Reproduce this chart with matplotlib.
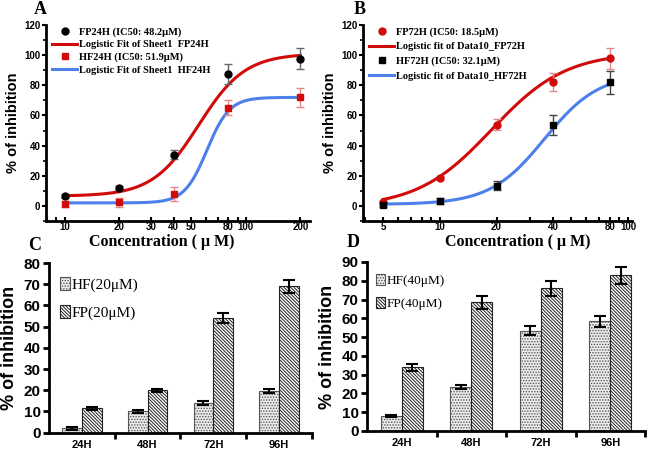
import numpy as np
import matplotlib
matplotlib.use("Agg")
import matplotlib.pyplot as plt
from matplotlib.lines import Line2D
from matplotlib.ticker import FixedLocator, NullFormatter, MultipleLocator

# ---- panel A data (24H dose response)
conc_a = [10, 20, 40, 80, 200]
fp24 = [6.5, 12, 34, 87.5, 97.5]
fp24_err = [1.5, 1.5, 3, 6.5, 7]
hf24 = [1, 2.5, 8, 65, 72]
hf24_err = [2, 3, 4.5, 5, 6.5]
# logistic fit params: A1, A2, x0, p
fit_fp24 = (6.5, 101, 55, 3.4)
fit_hf24 = (2, 72, 61, 7)

# ---- panel B data (72H dose response)
conc_b = [5, 10, 20, 40, 80]
fp72 = [2.5, 18.5, 54, 82, 98]
fp72_err = [1, 1.5, 3.5, 6, 7]
hf72 = [0.5, 3.5, 13.5, 53.5, 82]
hf72_err = [1, 2, 3, 6.5, 7.5]
fit_fp72 = (-1, 102, 18.8, 2.2)
fit_hf72 = (1, 88, 36, 3)

# ---- panel C/D data (time course)
times = ["24H", "48H", "72H", "96H"]
hf20 = [2, 10, 14, 19.5]
hf20_err = [0.5, 0.5, 0.8, 1.0]
fp20 = [11.5, 20, 54, 69]
fp20_err = [0.8, 0.8, 2.5, 3]
hf40 = [8, 23.5, 53.5, 58.5]
hf40_err = [0.5, 1.2, 2.5, 3]
fp40 = [34, 68.5, 76, 83]
fp40_err = [1.8, 3.5, 4, 4.5]

RED = "#d10a0a"
BLUE = "#4d80ea"
PINK = "#e58a8a"
SANS = "Liberation Sans"
SERIF = "Liberation Serif"

plt.rcParams["hatch.linewidth"] = 0.7


def logistic(x, a1, a2, x0, p):
    return a2 + (a1 - a2) / (1 + (x / x0) ** p)


def curve_panel(ax, conc, xlim, ticks, s1, s2, labels, spacing, xlab_x):
    xs = np.logspace(np.log10(conc[0]), np.log10(conc[-1]), 200)
    (y1, e1, f1, c1, ec1, m1), (y2, e2, f2, c2, ec2, m2) = s1, s2
    ax.errorbar(conc, y1, yerr=e1, fmt=m1, color=c1, ecolor=ec1, ms=5,
                capsize=3, elinewidth=1, zorder=3)
    ax.plot(xs, logistic(xs, *f1), color=RED, lw=2.2, zorder=2)
    ax.errorbar(conc, y2, yerr=e2, fmt=m2, color=c2, ecolor=ec2, ms=4.5,
                capsize=3, elinewidth=1, zorder=3)
    ax.plot(xs, logistic(xs, *f2), color=BLUE, lw=2.2, zorder=2)
    ax.set_xscale("log")
    ax.set_xlim(*xlim)
    ax.set_ylim(-10, 120)
    ax.xaxis.set_major_locator(FixedLocator(ticks))
    ax.set_xticklabels([str(t) for t in ticks])
    ax.xaxis.set_minor_formatter(NullFormatter())
    ax.yaxis.set_major_locator(FixedLocator([0, 20, 40, 60, 80, 100, 120]))
    ax.yaxis.set_minor_locator(MultipleLocator(10))
    for s in ["top", "right"]:
        ax.spines[s].set_visible(False)
    for s in ["left", "bottom"]:
        ax.spines[s].set_linewidth(2)
    ax.tick_params(axis="x", which="both", direction="in", width=1.5, length=3,
                   pad=1, labelsize=7)
    ax.tick_params(axis="y", which="major", direction="out", width=1.5,
                   length=3, pad=1, labelsize=7)
    ax.tick_params(axis="y", which="minor", direction="out", width=1.2, length=2)
    for t in ax.get_xticklabels() + ax.get_yticklabels():
        t.set_fontfamily(SANS)
        t.set_fontweight("bold")
    ax.set_ylabel("% of inhibition", fontfamily=SANS, fontweight="bold",
                  fontsize=10.5, labelpad=3)
    ax.set_xlabel("Concentration ( μ M)", fontfamily=SERIF, fontweight="bold",
                  fontsize=11.5)
    ax.xaxis.set_label_coords(xlab_x, -0.064)
    handles = [
        Line2D([], [], ls="none", marker=m1, color=c1, ms=5),
        Line2D([], [], color=RED, lw=2.2),
        Line2D([], [], ls="none", marker=m2, color=c2, ms=4.5),
        Line2D([], [], color=BLUE, lw=2.2),
    ]
    ax.legend(handles, labels, loc="upper left", bbox_to_anchor=(0.0, 1.02),
              frameon=False, handlelength=2.4, handletextpad=0.2,
              labelspacing=spacing, borderaxespad=0.2,
              prop={"family": SERIF, "weight": "bold", "size": 7.5})


def bar_panel(ax, hf, hf_err, fp, fp_err, ymax, labels, leg_y, leg_size, sp):
    x = np.arange(len(times))
    w = 0.3
    ax.bar(x - w / 2, hf, w, yerr=hf_err, color="#ececec", edgecolor="#555555",
           hatch="......", lw=0.8, capsize=4,
           error_kw={"elinewidth": 1.5, "capthick": 1.5})
    ax.bar(x + w / 2, fp, w, yerr=fp_err, color="white", edgecolor="#222222",
           hatch="\\" * 10, lw=0.8, capsize=4,
           error_kw={"elinewidth": 1.5, "capthick": 1.5})
    ax.set_xlim(-0.5, 3.5)
    ax.set_ylim(0, ymax)
    ax.yaxis.set_major_locator(MultipleLocator(10))
    ax.set_xticks(x)
    ax.set_xticklabels(times)
    ax.xaxis.set_minor_locator(FixedLocator([0.5, 1.5, 2.5, 3.5]))
    for s in ["top", "right"]:
        ax.spines[s].set_visible(False)
    for s in ["left", "bottom"]:
        ax.spines[s].set_linewidth(2)
    ax.tick_params(axis="x", which="major", length=0, pad=5, labelsize=8)
    ax.tick_params(axis="x", which="minor", direction="out", length=4, width=2)
    ax.tick_params(axis="y", direction="out", length=4, width=2, labelsize=11,
                   pad=2)
    for t in ax.get_xticklabels() + ax.get_yticklabels():
        t.set_fontfamily(SANS)
        t.set_fontweight("bold")
    ax.set_ylabel("% of inhibition", fontfamily=SANS, fontweight="bold",
                  fontsize=13, labelpad=4)
    ax.legend(labels, loc="upper left", bbox_to_anchor=(0.0, leg_y),
              frameon=False, handlelength=0.7, handleheight=0.9,
              handletextpad=0.1, labelspacing=sp, borderpad=0.2,
              prop={"family": SERIF, "size": leg_size})


fig = plt.figure(figsize=(6.49, 4.57), dpi=100)
ax_a = fig.add_axes([0.0709, 0.5164, 0.4068, 0.4289])
ax_b = fig.add_axes([0.5593, 0.5164, 0.4145, 0.4289])
ax_c = fig.add_axes([0.0755, 0.0532, 0.405, 0.3713])
ax_d = fig.add_axes([0.5655, 0.0569, 0.4284, 0.3698])

curve_panel(ax_a, conc_a, (7.9, 226), [10, 20, 30, 40, 50, 80, 100, 200],
            (fp24, fp24_err, fit_fp24, "black", "#666666", "o"),
            (hf24, hf24_err, fit_hf24, RED, PINK, "s"),
            ["FP24H (IC50: 48.2μM)", "Logistic Fit of Sheet1  FP24H",
             "HF24H (IC50: 51.9μM)", "Logistic Fit of Sheet1  HF24H"], 0.3, 0.44)
curve_panel(ax_b, conc_b, (3.9, 105), [5, 10, 20, 40, 80, 100],
            (fp72, fp72_err, fit_fp72, RED, PINK, "o"),
            (hf72, hf72_err, fit_hf72, "black", "#444444", "s"),
            ["FP72H (IC50: 18.5μM)", "Logistic fit of Data10_FP72H",
             "HF72H (IC50: 32.1μM)", "Logistic fit of Data10_HF72H"], 0.5, 0.576)

bar_panel(ax_c, hf20, hf20_err, fp20, fp20_err, 80, ["HF(20μM)", "FP(20μM)"],
          0.98, 11, 0.85)
bar_panel(ax_d, hf40, hf40_err, fp40, fp40_err, 90, ["HF(40μM)", "FP(40μM)"],
          0.985, 9.5, 0.75)

for lbl, x, y in [("A", 40, 10), ("B", 360, 10), ("C", 35, 246), ("D", 353, 243)]:
    fig.text(x / 649, 1 - y / 457, lbl, fontfamily=SERIF, fontweight="bold",
             fontsize=13, ha="center", va="center")

fig.savefig("out.png", dpi=100)
